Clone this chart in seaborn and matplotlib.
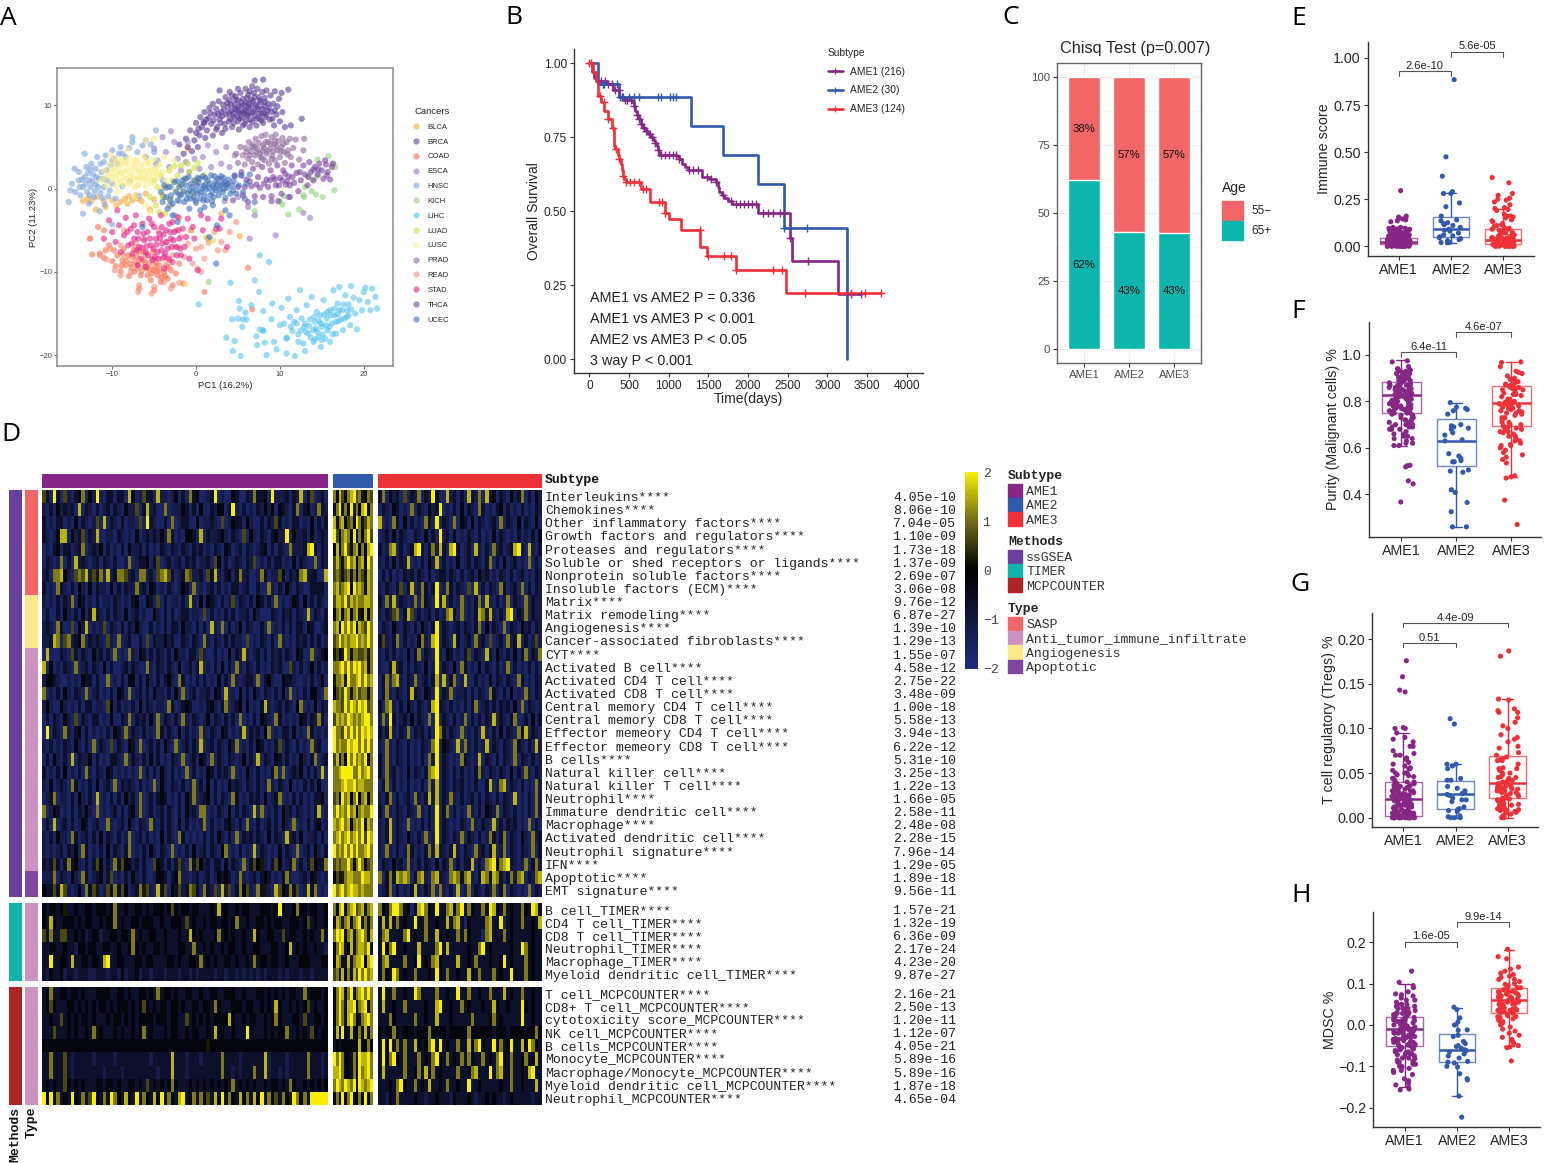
import numpy as np
import pandas as pd
import matplotlib
matplotlib.use("Agg")
import matplotlib.pyplot as plt
import seaborn as sns
from matplotlib.colors import LinearSegmentedColormap, ListedColormap
from matplotlib.lines import Line2D
from matplotlib.patches import Patch

sns.set_style("ticks")
plt.rcParams["font.family"] = ["Liberation Sans", "DejaVu Sans"]
MONO = ["Liberation Mono", "DejaVu Sans Mono"]

W, H = 1544, 1163
fig = plt.figure(figsize=(W / 100, H / 100), dpi=100)


def axpx(l, t, r, b):
    return fig.add_axes([l / W, 1 - b / H, (r - l) / W, (b - t) / H])


SUBTYPES = ["AME1", "AME2", "AME3"]
SUB_COL = {"AME1": "#862786", "AME2": "#3159AC", "AME3": "#EE3138"}

# ---------------- Panel A data ----------------
CANCERS = ["BLCA", "BRCA", "COAD", "ESCA", "HNSC", "KICH", "LIHC", "LUAD", "LUSC", "PRAD", "READ", "STAD", "THCA", "UCEC"]
CANCER_COL = ["#F6A93B", "#5A3A94", "#F9704E", "#9B79C4", "#7FA4DC", "#8FD17F", "#58C3F0", "#CBE23A", "#FBEE8A",
              "#8E6A9B", "#F98F7E", "#E0218A", "#7A3FA0", "#3F6FB9"]
BLCA = [(-13.5,-1.5),(-13,-1.2),(-12.5,-1.5),(-12,-2.5),(-11.8,-1),(-11,-1.5),(-10.8,-2.2),(-10,-1.4),(-9.5,-2),(-9,-1.6),(-8.5,-1.2),(-8.2,-1.8),(-8,-.9),(-7.6,-1.4),(-7.2,-.8),(-7,-1.2),(-6.5,-1.5),(-6,-.6),(-5,-1.3),(-4,-.8),(-3,-2),(-1,4.8),(0,.8),(3,-3),(5.2,-5.7),(1.5,-6.5),(-2,-3.5),(-5.5,-2.5)]
BRCA = [(-2,5.3),(-1.5,4.2),(-1.2,6),(-1,5),(-.7,7),(-.5,4.5),(-.2,5.8),(0,6.7),(0,7.9),(.2,5),(.4,6.4),(.5,8.6),(.7,7.4),(.9,8),(1,9.2),(1.1,6.1),(1.3,7),(1.5,8.5),(1.6,9.7),(1.8,7.8),(2,6.4),(2,10.2),(2.2,8.9),(2.4,9.6),(2.5,7.4),(2.7,10.5),(2.8,8.4),(3,9.2),(3.1,6.7),(3.2,10.1),(3.4,7.8),(3.5,11),(3.6,8.9),(3.8,9.8),(3.9,8.1),(4,10.6),(4,11.6),(4.2,9.3),(4.3,7.4),(4.5,8.6),(4.6,10.1),(4.7,11.1),(4.8,9.5),(5,8.1),(5,10.6),(5.1,7.1),(5.2,9.1),(5.3,11.5),(5.4,9.9),(5.5,8.5),(5.6,10.8),(5.8,7.8),(5.8,9.4),(5.9,12),(6,10.3),(6.1,8.8),(6.2,11.3),(6.3,9.7),(6.4,7.4),(6.5,8.3),(6.6,10.7),(6.7,12.3),(6.8,9.2),(6.9,11.5),(7,8.7),(7.1,10.1),(7.2,7.6),(7.3,12),(7.4,9.6),(7.5,11),(7.6,8.4),(7.7,10.4),(7.8,9),(7.9,11.6),(8,7.9),(8.1,9.9),(8.2,10.9),(8.3,8.6),(8.4,11.8),(8.5,9.4),(8.6,10.2),(8.8,8.3),(8.9,11.2),(9,9.2),(9.2,10.2),(9.3,7.6),(9.4,11.7),(9.6,8.9),(9.7,9.9),(9.9,10.8),(10,8.1),(10.2,11.5),(10.3,9.2),(10.6,7.4),(11,11.9),(11.3,7.6),(12.6,8.4),(8,13.1),(7,13),(2.8,11.8),
        (1.2,8.3),(1.7,9.1),(2.1,8.2),(2.6,9),(2.9,7.9),(3.1,8.7),(3.3,9.5),(3.5,7.2),(3.7,10.3),(3.9,9.1),(4.1,8.4),(4.2,10.1),(4.4,9),(4.5,7.9),(4.6,9.6),(4.7,10.7),(4.9,8.7),(5,9.3),(5.1,9.9),(5.2,8.4),(5.4,10.4),(5.5,9.2),(5.6,7.6),(5.7,9),(5.8,10.1),(6,8.2),(6,9.5),(6.1,10.9),(6.2,8.9),(6.3,10.2),(6.5,9.1),(6.6,9.9),(6.7,8),(6.8,10.5),(7,9.4),(7,11),(7.2,8.4),(7.3,9.9),(7.5,9),(7.6,10.6),(7.8,8.2),(7.9,9.6),(8.1,9.1),(8.2,10.4),(8.4,8.9),(8.7,9.7),(9.1,8.4),(9.4,9.4),(4.3,11.2),(6.4,11.7),(5,12),(2.4,7.1),(1,7.9),(.3,7.2)]
COAD = [(-12.7,-6),(-12.4,-7.9),(-11.7,-4.6),(-11.5,-7.8),(-11,-8.3),(-11,-5),(-10.8,-7.4),(-10.4,-6.8),(-10,-8.7),(-9.8,-7.4),(-9.6,-9.3),(-9.4,-8),(-9,-9.9),(-8.8,-8.6),(-8.6,-7.2),(-8.4,-9.2),(-8.1,-8),(-8,-10.5),(-7.8,-9),(-7.6,-8.2),(-7.4,-10),(-7.2,-8.8),(-7,-9.6),(-6.8,-7.6),(-6.8,-12),(-6.6,-10.4),(-6.4,-8.6),(-6.2,-9.4),(-6,-8),(-5.8,-10.4),(-5.6,-9),(-5.4,-11),(-5.2,-8.4),(-5,-9.8),(-5,-12.2),(-4.8,-8.8),(-4.6,-10.4),(-4.4,-9.2),(-4.2,-11.2),(-4,-8.4),(-3.8,-10),(-3.6,-9.2),(-3.4,-10.8),(-3.2,-8.6),(-3,-9.8),(-2.8,-11.6),(-2.4,-10.2),(-2,-9),(-1.5,-11.4),(1,-12.4),(6.2,-9.5),(6.7,-14.5),
        (-8.9,-9.2),(-8.3,-8.6),(-7.7,-9.5),(-7.1,-8.2),(-6.9,-9.1),(-6.5,-9.9),(-6.1,-8.8),(-5.9,-9.6),(-5.5,-9.7),(-5.3,-10.2),(-4.9,-9.3),(-4.7,-9.9),(-4.3,-9.8),(-4.1,-10.6),(-3.7,-10.5),(-3.3,-9.4),(-7.4,-7.3),(-6.3,-7.6),(-5.1,-7.6),(-8.7,-7.9)]
ESCA = [(-6,3.8),(-5,4.8),(-4.8,3),(-4,6.2),(-3.6,4.4),(-3.2,2.6),(-3,6.9),(-2.6,5.6),(-2.2,3.6),(-1.8,2.2),(-1.2,3.2),(-.8,2),(-.2,3.6),(.4,2.4),(.8,3.8),(1.4,5.2),(1.8,2.6),(2.4,4.4),(3,3),(3.6,5),(4,2.6),(4.6,4),(5.4,1.6),(6.2,-2.2),(7,-3.2),(6.4,-6),(9.5,-5.6),(11,-1),(12.8,-2.9),(13.6,-3.5),(2.8,1.2),(3.4,-1.5),(5,-1),(-1,5.6)]
HNSC = [(-15.2,-1.6),(-15,-.2),(-14.8,.6),(-14.5,2.4),(-14.4,-.4),(-14,1),(-14,2),(-13.8,-.8),(-13.5,.2),(-13.3,1.4),(-13.3,4.2),(-13.1,2.6),(-13,-.4),(-12.8,1),(-12.8,-1.8),(-12.6,.2),(-12.5,3),(-12.3,1.7),(-12.2,-1),(-12,.5),(-12,2.4),(-11.8,3.8),(-11.6,1.2),(-11.4,-.5),(-11.3,2),(-11,.2),(-11,3.2),(-10.8,4),(-10.6,1),(-10.5,-.9),(-10.2,2.8),(-10,4.6),(-10,.6),(-9.8,3.6),(-9.6,-1.2),(-9.2,4.2),(-9,5),(-8.8,.3),(-8.4,3.8),(-8,4.9),(-7.9,.9),(-7.6,5.6),(-7.6,6.2),(-7,4.4),(-6.8,-.9),(-6.4,5.2),(-6,5.8),(-5.4,5.3),(-5,4.4),(-4.6,3.4),(-4,1),(-3.8,-1),(-3.2,-2),(-3,.2),(-2.6,-3.2),(-13.5,-3),(-11.5,-2.7),(-4.8,7),(-2,-1.5),(-10,-4.3),
        (-13.6,1.1),(-13.2,.6),(-12.9,1.9),(-12.7,-.8),(-12.4,.9),(-12.1,-.3),(-11.9,1.4),(-11.7,.2),(-11.2,-1.1),(-11,1.2),(-10.7,2.2),(-10.3,-.2),(-10,3.4),(-9.4,3),(-8.8,4.2),(-13.9,.2),(-12.6,2.3),(-11.4,3),(-10.9,-1.9)]
KICH = [(7,-2.7),(10,-1.5),(10.3,-1.9),(10.5,-.9),(11,-3.1),(12.3,-2.5),(12.8,-.8),(12.9,-1),(13,.2),(13.4,1.5),(13.8,-.3),(14,1.1),(14.3,-.7),(14.5,1.5),(14.5,3.5),(15.1,-1),(15.8,3.9),(16.4,3),(16.5,-.2),(16.6,2.6),(1.5,-11.2)]
LIHC = [(.3,-13.9),(3.6,-17.9),(4.1,-11.3),(4.3,-15.7),(4.4,-19.5),(4.6,-18.3),(5,-15.6),(5.1,-13.5),(5.2,-14.4),(5.3,-20.1),(5.5,-16.6),(5.6,-15.7),(5.9,-14.9),(6,-15.7),(6.6,-14),(7,-11),(7.2,-17.7),(7.3,-18.8),(7.5,-12.4),(7.6,-8),(7.6,-16.9),(8,-17),(8,-14.7),(8.2,-18.5),(8.4,-20),(8.7,-8.8),(9,-15.7),(9.1,-13.8),(9.3,-18.4),(9.6,-19.3),(10,-16.4),(10.2,-14.3),(10.5,-16.2),(10.8,-18),(10.8,-19.8),(11,-13.2),(11.2,-15.4),(11.5,-17.1),(11.7,-16),(11.8,-20.1),(12,-14.6),(12.2,-17.5),(12.4,-12.2),(12.6,-15.6),(12.8,-18.6),(12.9,-16.6),(13,-19.5),(13.2,-14),(13.4,-17.4),(13.6,-15.7),(13.8,-13),(14,-17),(14,-18.4),(14.2,-16),(14.4,-14.8),(14.6,-17.8),(14.8,-15.2),(14.9,-19),(15,-16.6),(15.2,-13.4),(15.4,-18),(15.6,-15.6),(15.7,-17),(16,-14.6),(16,-18.4),(16.2,-16.2),(16.4,-12.2),(16.5,-15.2),(16.7,-17.4),(16.9,-13.8),(17,-15.9),(17.1,-11.8),(17.4,-14.6),(17.5,-17),(17.8,-12.8),(18,-15.4),(18.2,-13.9),(18.4,-16.4),(18.5,-11.7),(18.8,-13.1),(19,-15),(19.2,-16.9),(19.5,-13.4),(19.8,-14.6),(20,-12.4),(20.2,-11.9),(20.5,-13.6),(20.8,-14.6),(21,-12),(21.4,-13),(21.6,-14.4),
        (11.3,-16.6),(12,-16.2),(12.5,-17),(13,-16.2),(13.1,-17.2),(13.5,-16.5),(13.7,-17.9),(14.1,-15.4),(14.3,-16.8),(14.5,-17.2),(14.7,-15.9),(14.9,-16.2),(15.1,-17.5),(15.3,-15.1),(15.5,-16.4),(15.7,-14.8),(15.9,-16.6),(16.1,-15.2),(16.3,-17.5),(16.5,-14.4),(16.7,-16),(16.9,-15.1),(17.1,-14.6),(17.3,-15.7),(17.6,-13.9),(17.7,-15.6),(18,-14.6),(18.2,-15.2),(18.5,-14.5),(14.2,-18.1),(15,-18.2),(12.2,-18.4),(10.8,-17.9),(8,-17.1)]
LUAD = [(-5.5,-1),(-5,1),(-4.8,-2),(-4.6,.2),(-4.4,-2.8),(-4.2,1.6),(-4,-1),(-3.7,-3),(-3.4,.4),(-3.2,2.2),(-3,-1.2),(-2.8,1),(-2.6,2.7),(-2.4,-.2),(-2.2,1.6),(-2,.4),(-1.8,2.8),(-1.5,-.4),(-1.2,1.2),(-1,3),(-.8,2),(-.5,-.6),(-.2,2.5),(0,1),(.2,3.1),(1,1.6),(-.6,-5),(1.2,-5.8),(2,-6.2)]
LUSC = [(-11.3,1),(-11,2.2),(-10.7,.4),(-10.5,1.6),(-10.3,2.9),(-10,1),(-10,2.3),(-9.8,3.5),(-9.6,.3),(-9.4,1.7),(-9.2,2.7),(-9,.8),(-9,3.6),(-8.8,1.9),(-8.6,.4),(-8.4,2.9),(-8.3,1.2),(-8.1,2.2),(-8,3.7),(-7.8,.9),(-7.6,1.7),(-7.5,3),(-7.3,.2),(-7.2,2.4),(-7,1.3),(-7,3.5),(-6.8,.6),(-6.6,2),(-6.5,2.9),(-6.3,1.1),(-6.2,3.9),(-6,.3),(-5.9,2.2),(-5.7,1.4),(-5.6,3.1),(-5.4,.7),(-5.3,2.4),(-5.1,1.7),(-5,3.5),(-4.8,.4),(-4.7,2.6),(-4.5,1.4),(-4.3,3),(-4.2,.1),(-4,2),(-3.8,3.8),(-3.6,1),(-3,2.4),(-2.6,3.4),(-6,5.8),(-5,6),(-7.2,-1),(-6,-2),(-10.2,4),(-8.2,4.6),(-9.4,-.4),(-5.5,-2.8),(-1.2,-11.5),
        (-10.8,1.3),(-10.2,2),(-9.9,1.5),(-9.7,2.4),(-9.3,1),(-9.1,2),(-8.9,2.9),(-8.7,1.3),(-8.5,2.1),(-8.2,3.2),(-7.9,1.6),(-7.7,2.5),(-7.4,1.2),(-7.1,3),(-6.9,2.1),(-6.7,1.4),(-6.4,2.4),(-6.1,1.7),(-5.8,3),(-5.5,2),(-5.2,1),(-4.9,2.2),(-4.6,1.9),(-8,.6),(-7,.4),(-6,1),(-9.5,3.2),(-8.6,3.4),(-7.3,3.4),(-5.9,3.4)]
PRAD = [(4.8,4.2),(5,3.1),(5.3,5),(5.6,4),(5.8,2.9),(5.9,4.9),(6.2,3.6),(6.3,5.6),(6.5,4.5),(6.7,3.2),(6.8,5.3),(7,4),(7.1,6),(7.3,4.8),(7.4,2.9),(7.5,5.5),(7.7,3.8),(7.8,6.3),(7.9,4.5),(8,5.2),(8.2,3.4),(8.3,6.5),(8.4,4.2),(8.6,5.6),(8.7,3),(8.8,4.8),(9,6.2),(9.1,4),(9.3,5.3),(9.4,3.4),(9.5,6.5),(9.7,4.6),(9.8,5.7),(10,3.8),(10.2,5),(10.3,6.1),(10.5,4.4),(10.6,3.1),(10.8,5.6),(11,4.6),(11.2,6),(11.3,3.8),(11.6,4.9),(11.9,5.9),(12.3,3.5),(12.8,4.6),(12.9,6),
        (6,4.4),(6.6,5),(7.2,4.4),(7.6,4.2),(8.1,4.9),(8.5,4.5),(8.9,5.4),(9.2,4.5),(9.6,5.1),(10.1,4.5),(10.4,5.4),(7,5),(7.9,3.6),(9,3.6),(10.9,4.1),(6.4,4),(8.3,5.6),(9.4,5.8)]
READ = [(-12.6,-6),(-11.5,-8),(-10.7,-8.5),(-10.2,-7.2),(-9.7,-9.8),(-9,-6.8),(-9,-10.4),(-8.6,-5),(-7.8,-10),(-7.2,-6.6),(-6.9,-12.4),(-6.8,-11.6),(-6.2,-6),(-5.3,-12.6),(-5,-11.8),(-4.5,-5),(-4.2,-10.8),(-3.8,-11.2),(-3.6,-6.4),(-3,-12),(-2.8,-8),(-2.4,-5),(-2.2,-7),(-2,-11.3),(-1.8,-5.8),(-1.4,-8.2),(-1,-6.6),(-.6,-5),(-.4,-9),(0,-7.2),(.2,-9.6),(.6,-10),(.6,-7),(1,-8.4),(1.4,-6),(2.2,-5.2),(3,-6.4),(3.5,-7.4),(2.6,-7.4),(4,-5.2),(4.8,-4)]
STAD = [(-11,-6),(-10.4,-3.8),(-10,-5.2),(-9.6,-6.4),(-9.2,-4.4),(-9,-7.6),(-8.6,-5.6),(-8.4,-3.5),(-8.1,-6.8),(-7.8,-4.8),(-7.6,-7.8),(-7.4,-6),(-7.2,-3.2),(-7,-5.2),(-6.8,-7),(-6.6,-8.4),(-6.4,-4.2),(-6.2,-6.2),(-6,-7.6),(-5.8,-5.2),(-5.6,-3.6),(-5.4,-6.8),(-5.2,-8.6),(-5,-4.6),(-4.8,-6),(-4.6,-7.6),(-4.4,-5.4),(-4.2,-3.2),(-4,-6.6),(-3.8,-8.2),(-3.6,-5),(-3.4,-7.2),(-3.2,-4.2),(-3,-6),(-2.8,-8.8),(-2.6,-5.2),(-2.4,-7),(-2.2,-3.4),(-2,-6),(-1.8,-8),(-1.6,-4.8),(-1.4,-7),(-1.2,-5.8),(-1,-3.6),(-.8,-8.4),(-.4,-4.6),(-.2,-6),(.2,-9.8),(.6,-3.2),(.8,-5),(1.4,-3.6),(2.4,-4.8),(2.8,-4.8),(3,-3.6),(3.7,-7),(-6,-9.4),(-7,-9.2),(-3.8,-9.6),(-9.4,-2.6),
        (-7.7,-6.6),(-7.1,-7.4),(-6.9,-6),(-6.5,-7.1),(-6.3,-5.4),(-5.9,-6.9),(-5.7,-8),(-5.5,-6),(-5.1,-7.2),(-4.9,-8.2),(-4.7,-6.7),(-4.5,-8.4),(-4.3,-6),(-4.1,-7.4),(-3.9,-5.5),(-3.7,-7.8),(-3.5,-6.4),(-3.3,-8.4),(-3.1,-5.2),(-2.9,-7),(-2.7,-6.2),(-2.3,-8),(-2.1,-5),(-1.9,-7.2),(-8.2,-5.2),(-7.4,-4.4),(-5.3,-4.2),(-4.1,-4.6),(-2.8,-4)]
THCA = [(3.8,.6),(4.4,-1.4),(4.6,1.6),(5,.2),(5.4,2),(5.6,-.8),(6,1.1),(6.2,-1.6),(6.6,.3),(6.8,2.4),(7,-.9),(7.4,1.4),(7.6,.1),(7.9,2.6),(8,-1),(8.4,1.1),(8.6,.2),(8.9,2.2),(9,-.9),(9.2,1.4),(9.5,.4),(9.7,2.8),(10,1.3),(10.2,-.6),(10.4,2.2),(10.7,.5),(11,1.5),(11.2,-1),(11.4,2.8),(11.7,.7),(12,1.9),(12.2,-.3),(12.5,1),(12.8,2.8),(13,1.7),(13.3,.4),(13.5,3.2),(13.7,2),(14,1),(14.2,2.6),(14.5,1.7),(14.7,3),(15,2.2),(15.2,1.2),(15.4,3.4),(15.7,2),(16,1.1),(16.3,3),(16.2,2.6),(15.5,2.9),(14,2.3),(9.8,-1.5),(9,-1.5),
        (8.1,.6),(8.8,1),(9.4,1.1),(9.9,.4),(10.3,1),(10.6,1.8),(10.9,.9),(11.2,.4),(11.5,1.4),(7.2,.5),(6.4,.9),(5.8,.2),(12.4,2),(13.4,1.4),(14.6,2.3),(15.6,1.6)]
UCEC = [(-4.2,-.4),(-4,-1.6),(-3.8,.4),(-3.6,-1),(-3.4,-2.4),(-3.2,.2),(-3,-.8),(-2.8,-1.8),(-2.6,.8),(-2.4,-.4),(-2.2,-1.4),(-2,.2),(-1.8,-.8),(-1.6,1),(-1.4,-1.6),(-1.2,.4),(-1,-.6),(-.9,1.4),(-.7,-1.2),(-.5,.2),(-.4,-.4),(-.2,1),(-.1,-1.4),(.1,.4),(.2,-.6),(.4,1.2),(.5,-1.2),(.7,0),(.8,1.5),(1,-.8),(1.1,.5),(1.3,-1.4),(1.4,1),(1.5,.1),(1.7,-.8),(1.8,1.6),(2,.3),(2.1,-1),(2.3,.8),(2.4,-.2),(2.6,1.2),(2.7,-.8),(2.9,.4),(3,1.5),(3.2,-.4),(3.4,.8),(3.5,-1.1),(3.7,.1),(3.9,1.1),(4.1,-.6),(4.3,.4),(4.6,1.5),(4.8,-.6),(5.1,.4),(5.4,1.6),(5.6,-.4),(6,.6),(6.4,1.7),(1,-2.2),(.5,-2.6),(-.8,-2.4),(-2.8,-3.2),(2,-2),(3.5,-2.6),(5.8,-1.2),(2.5,-4.4),(1.6,-5.8),(2.4,-9),(-2.2,-4),(-6.4,-4.6),(7,-1.6),(4,-3.2),
        (-1.5,-.3),(-1.1,-1.2),(-.6,.6),(-.3,-1),(0,-.2),(.3,.7),(.6,-.4),(.9,.3),(1.2,-.1),(1.6,.6),(1.9,-.4),(2.2,.1),(2.5,.5),(2.8,-.1),(3.1,.6),(3.3,0),(3.6,.5),(0,-1.7),(.9,-1.4),(1.9,-1.5),(-2.3,.9),(-1.3,1.2),(-3.1,-1.4),(-2,-.7),(-3.6,.1),(.2,1.3),(1.1,1.3),(2.2,1.5),(3.3,1.3),(4.5,.9),(4.4,-.2),(-.8,-.2),(-1.7,.5)]
PCA_POINTS = [BLCA, BRCA, COAD, ESCA, HNSC, KICH, LIHC, LUAD, LUSC, PRAD, READ, STAD, THCA, UCEC]

# ---------------- Panel B data ----------------
KM_T = {"AME1": [0,30,60,90,150,220,300,380,440,540,560,580,600,620,650,680,710,740,770,800,830,850,870,880,1100,1130,1170,1210,1240,1420,1520,1600,1620,1640,1670,1700,1750,1800,2130,2530,2550,3139,3430],
        "AME2": [0,105,378,1285,1690,2125,2460,3245],
        "AME3": [0,50,90,110,150,190,240,290,310,330,360,380,400,410,420,440,460,650,770,950,1000,1150,1400,1480,1850,2480,3680]}
KM_S = {"AME1": [1,.97,.95,.94,.94,.93,.91,.885,.875,.87,.855,.84,.825,.81,.795,.78,.77,.76,.75,.74,.73,.72,.705,.69,.685,.675,.66,.65,.64,.615,.61,.6,.58,.565,.555,.545,.535,.525,.495,.41,.33,.22,.22],
        "AME2": [1,.93,.887,.789,.69,.593,.444,0],
        "AME3": [1,.97,.94,.89,.87,.84,.81,.78,.72,.71,.69,.675,.66,.64,.62,.61,.6,.575,.53,.495,.475,.435,.38,.35,.3,.225,.225]}
KM_CENS = {"AME1": [150,200,240,290,330,370,410,450,480,520,560,600,620,650,690,720,760,790,830,870,900,960,1010,1060,1090,1130,1260,1310,1370,1480,1530,1600,1690,1790,1850,1900,1950,2000,2050,2100,2190,2250,2320,2400,2450,2530,2760,3300,3430],
           "AME2": [170,190,350,390,420,500,560,630,860,900,1020,1060,1090,2460,2530,2750],
           "AME3": [0,20,130,180,240,300,340,380,420,460,510,560,620,680,720,880,920,960,1390,1490,1700,1780,1850,2320,2430,2720,3300,3470,3680]}
KM_LABELS = ["AME1 (216)", "AME2 (30)", "AME3 (124)"]
KM_TEXT = ["AME1 vs AME2 P = 0.336", "AME1 vs AME3 P < 0.001", "AME2 vs AME3 P < 0.05", "3 way P < 0.001"]

# ---------------- Panel C data ----------------
AGE_65 = [62, 42.9, 42.8]
AGE_55 = [38, 57.1, 57.2]
AGE_TXT_65 = ["62%", "43%", "43%"]
AGE_TXT_55 = ["38%", "57%", "57%"]

# ---------------- Panel D data ----------------
ROWS_1 = ["Interleukins****","Chemokines****","Other inflammatory factors****","Growth factors and regulators****","Proteases and regulators****","Soluble or shed receptors or ligands****","Nonprotein soluble factors****","Insoluble factors (ECM)****","Matrix****","Matrix remodeling****","Angiogenesis****","Cancer-associated fibroblasts****","CYT****","Activated B cell****","Activated CD4 T cell****","Activated CD8 T cell****","Central memory CD4 T cell****","Central memory CD8 T cell****","Effector memeory CD4 T cell****","Effector memeory CD8 T cell****","B cells****","Natural killer cell****","Natural killer T cell****","Neutrophil****","Immature dendritic cell****","Macrophage****","Activated dendritic cell****","Neutrophil signature****","IFN****","Apoptotic****","EMT signature****"]
ROWS_2 = ["B cell_TIMER****","CD4 T cell_TIMER****","CD8 T cell_TIMER****","Neutrophil_TIMER****","Macrophage_TIMER****","Myeloid dendritic cell_TIMER****"]
ROWS_3 = ["T cell_MCPCOUNTER****","CD8+ T cell_MCPCOUNTER****","cytotoxicity score_MCPCOUNTER****","NK cell_MCPCOUNTER****","B cells_MCPCOUNTER****","Monocyte_MCPCOUNTER****","Macrophage/Monocyte_MCPCOUNTER****","Myeloid dendritic cell_MCPCOUNTER****","Neutrophil_MCPCOUNTER****"]
PVAL_1 = ["4.05e-10","8.06e-10","7.04e-05","1.10e-09","1.73e-18","1.37e-09","2.69e-07","3.06e-08","9.76e-12","6.87e-27","1.39e-10","1.29e-13","1.55e-07","4.58e-12","2.75e-22","3.48e-09","1.00e-18","5.58e-13","3.94e-13","6.22e-12","5.31e-10","3.25e-13","1.22e-13","1.66e-05","2.58e-11","2.48e-08","2.28e-15","7.96e-14","1.29e-05","1.89e-18","9.56e-11"]
PVAL_2 = ["1.57e-21","1.32e-19","6.36e-09","2.17e-24","4.23e-20","9.87e-27"]
PVAL_3 = ["2.16e-21","2.50e-13","1.20e-11","1.12e-07","4.05e-21","5.89e-16","5.89e-16","1.87e-18","4.65e-04"]
TYPE_1 = [0]*8 + [2]*4 + [1]*17 + [3]*2

HM_AME1 = [
"63193162134714292133133184126331822124131734112391211431132733419222313281361231",
"21314232318132131231321422613823117122243131411324413921312132424143213713412732",
"31213312141321261813213122161932113171233114122321612433142113132631213312141313",
"32124881423613281122132121412323242731214431813223421321614213213422914223141232",
"12134133123712324131213142231312132132132132312132143123132123413132172223893132",
"13212713182321231321311271233413612312313231223164131232132612131331214132117132",
"23177842167682657182377623177231678631237622316382134137231127312264132378233118",
"31217321314214132214131322723143121321243171212313121331231131172131421321133331",
"21213132714312131221321213411431613122131821414321312613213143131712124314131321",
"13113142131413832131321412312114213131233122161312131312231421113213231321813213",
"23217311614281212613213132421131213133142213131821713124132113171213131331431123",
"22387167234713232162171231131613224231132132172132131322161213213172121323131312",
"18111321631321423131712172143131321314221331621131214132821231313231321431171234",
"81412132171231321413112313211721321321412313812131413172132131213231162131241312",
"24432112121433131171213144131421313421731213131214131721233171342114332112131241",
"71213142132171231213143171231314221314171231223143181214131421321314171213144217",
"24211421213133122164131213141321221731234311213421371234141213821231321471214132",
"13132142161321331214113271323141713213172132124132131317121314321731212143132731",
"19132172134131212131431713213121731321413121721321431212813231471213314121731212",
"21312132142131713216132143171231314217123131812313214271213143121361321312172311",
"13142131813224131213321713213141312132171231431713213212413181321431312142137123",
"31213141213172132143121212171313142131217131214313231712142131213717123241313181",
"21412321731213141231713232131217142132131271314131214232132131272132141213131411",
"12371221314213181213131423171231343121314271234131321731213231412371213131213341",
"71243121313242171212313134171231231321314231771213214131321817121314231321213812",
"13181231312431231172123142132172131321413121271312134213172131231314217121313412",
"21314221731231314132131271231312141321731212131314213171323132141321823141223131",
"21212313241731213141321371213142132171213141231321471213121813212141321712314213",
"32363137342131364131736442313116431313621736423133141321713645213641237131364337",
"22271321421731234136121314213112443134722123123124343127212313431213721123143212",
"43363862124173651263736412375621836143623763173261826137462173521864373612837121",
"43443453343344344434733433443434443464344344333438443343443334443494334744344334",
"43843344434344334344734334434443343344436343343443443473343344343443344434634334",
"63733663343423442334434437343344334333433843433347343433433843344336344334343373",
"33443343324434433443343347434334434333443373343433434433433443334433483434334332",
"33933443833443443893344333443443333443433443734343344343343734434433433344433344",
"32433423323332233323324233423323332333233232333323323323232323233323233323323333",
"34733443443433344443344343344343734434334433433443344433433344343434344337344434",
"34643334434343434434344434346434344344343344344374333444344334343843343434634334",
"33433634343443433343443434344443444344336343434344448433434433434743334436334434",
"33363334343343734333434334347343334344334344334384433433394333434344733434364344",
"44444444444444444444444444444444444444444444445444444444444444444444444444444444",
"33733363233333233333233333333323333383332333233333733332333333823333233333733323",
"33733363233333333233332333333333233383332333333333733232333733823323233333733323",
"34343364343433344344343344343634343474333434343434343734343433434434374334343434",
"94947343943736943739743845937438493743893473746384937438473849374637459747399999",
]
HM_AME2 = [
"74864789675476","37937495748947","83784674973687","96478749374796","48479637847489",
"68637978478497","67636737476387","78678949787387","68879687877887","47847847854847",
"78497979487697","67978788978797","56459737766757","77897979897837","57785977897978",
"46769757867737","87769798798967","68787987878997","97769797979898","97877989979797",
"68374979787947","77899997797897","77789889788777","67497847947847","79787978478779",
"87897847879387","78978978979698","97879797977897","67677974797467","46557887779887",
"97897898878777",
"74893789678378","38727837893737","79893783789738","47983483788793","48733837889489","67384738697978",
"47983793789797","47973889478937","47973897437897","38494384474847","34344444484474",
"97974437398897","88974437397897","79879879498789","47494794474947",
]
HM_AME3 = [
"3714231613271329411823131832718341321423713142","1321431217132142391213141321731213413121312132","8121731413121731913217143141321231713214132141",
"1231413211321413192314121321312141321213121314","3127813123893137283189312318213172312389318213","2131413281213142813121412313213713141231217131",
"1313121323132131233132131231423121321312312132","2132136138127313912731321618131321731231713132","3172813212717321928131271213718213127132171322",
"2132671386131231312783171213872821318913271322","1321421321314213913212313213714132171321423132","3621371312147218913218312317231612317238131262",
"2131312141371321921431213613218314213141371327","2113823131321412913214173121413213127131213131","1371782132712313818137128113121413213217312132",
"1372132138321431913271223131321732131412172132","3178213142132138932131213137123131323141713212","2719312314132171913213127131313281321371131413",
"3138213271323131973132171213182131413217381321","2172132131213217914321817213128132132173213182","3172132131213172913212173212813213132171321312",
"3172312141321378913213131213721321321413172132","1371312131213172813213231213113812781321312172","2137131231721382813272131231313213132181213172",
"3172132132172131913713121721314327132131213172","2138132171213131913212132172132181313231217131","2138132142131712913213271321312731371321421723",
"2172131273121372832138213217231381271321321713","1321423172131321413271313381317893789321271372","7137387871378217832178737821387387313727813278",
"1237131213821327172131812713213271371321217132",
"7437997341389743933784793743373984373433743983","3838373433933733433837831433337833913433733438","3783333793433733843433737433317833373433333433",
"3947933433383333793833333433793433333433973433","3783333733493437843333833437333433493433373433","3743973433733343943733433843733373433943373433",
"3933733433973333733433933733433733383433733433","3833433733333433893343373433343384334333943433","3337433333733433833343333373333473433333933433",
"4344743444344474444344444744444434443444444474","3949373733843479393433733847943393734933849743","3947943733373437943734373743373437943733473483",
"3833333733473837343333733478333937833733438933","3334379433734383343733433933433333433733433383",
"3324373333433233433324333432334343323433333233",
]
HM_ALL = HM_AME1, HM_AME2, HM_AME3

# ---------------- Panels E-H data ----------------
E_PTS = {"AME1": [.295,.16,.155,.15,.15,.145,.14,.135,.13,.1,.1,.095,.095,.09,.09,.085,.085,.08,.08,.075,.075,.07,.07,.065,.065,.06,.06,.06,.055,.055,.05,.05,.05,.045,.045,.045,.04,.04,.04,.04,.035,.035,.035,.03,.03,.03,.03,.025,.025,.025,.025,.02,.02,.02,.02,.02,.015,.015,.015,.015,.015,.01,.01,.01,.01,.01,.01,.005,.005,.005,.005,.005,.005,.002,.002,.002,.002,.002,0,0,0,0,0,0,
                  .09,.08,.07,.06,.055,.05,.045,.04,.038,.036,.034,.032,.03,.028,.026,.024,.022,.02,.018,.016,.014,.012,.01,.008,.006,.004,.003,.001,0,0,0,.09,.075,.06,.05,.04,.03,.02,.01,0,.065,.055,.045,.035,.025,.015,.005,0],
         "AME2": [.885,.475,.372,.29,.28,.28,.23,.21,.16,.14,.135,.125,.12,.115,.11,.1,.09,.085,.08,.07,.06,.055,.05,.045,.04,.035,.03,.02,.02,.018],
         "AME3": [.365,.337,.28,.27,.255,.25,.245,.235,.22,.205,.2,.195,.19,.17,.16,.16,.155,.15,.14,.135,.13,.12,.115,.11,.105,.1,.095,.09,.085,.08,.075,.07,.065,.06,.055,.055,.05,.045,.045,.04,.04,.035,.035,.03,.03,.025,.025,.025,.02,.02,.02,.015,.015,.015,.01,.01,.01,.01,.005,.005,.005,.005,0,0,0,0,0,0,0,0,
                  .09,.07,.06,.05,.04,.035,.03,.025,.02,.015,.01,.005,0,.045,.03,.02,.01,0,.06,.04]}
F_PTS = {"AME1": [.975,.97,.95,.94,.94,.935,.93,.925,.92,.92,.91,.91,.905,.9,.9,.895,.89,.89,.88,.88,.875,.87,.87,.865,.86,.86,.855,.85,.85,.845,.84,.84,.835,.83,.83,.825,.82,.82,.815,.81,.81,.805,.8,.8,.795,.79,.79,.785,.78,.78,.775,.77,.765,.76,.76,.755,.75,.745,.74,.73,.73,.72,.72,.71,.7,.7,.69,.69,.68,.68,.67,.66,.65,.65,.64,.63,.62,.62,.61,.61,.525,.523,.518,.458,.445,.367,
                  .93,.92,.91,.9,.89,.885,.88,.87,.865,.86,.855,.85,.845,.84,.835,.83,.825,.82,.815,.81,.805,.8,.795,.79,.785,.78,.775,.77,.765,.76,.75,.74,.73,.72,.7,.68,.66,.64,.9,.87,.85,.83,.81,.79,.77,.75,.71,.69],
         "AME2": [.795,.775,.77,.765,.76,.745,.7,.695,.69,.685,.68,.665,.655,.635,.63,.575,.565,.555,.545,.54,.54,.505,.5,.495,.42,.408,.365,.325,.26,.26],
         "AME3": [.97,.968,.95,.93,.925,.92,.91,.9,.895,.89,.885,.88,.875,.87,.865,.86,.86,.855,.85,.85,.84,.835,.83,.825,.82,.81,.8,.8,.795,.79,.785,.78,.775,.77,.765,.76,.755,.75,.745,.74,.73,.72,.71,.7,.7,.695,.69,.685,.68,.67,.665,.66,.65,.64,.63,.62,.615,.61,.6,.59,.58,.57,.56,.55,.535,.48,.475,.47,.375,.27,
                  .87,.85,.83,.81,.79,.78,.77,.76,.75,.73,.71,.69,.67,.65,.63,.61,.86,.8,.77,.68]}
G_PTS = {"AME1": [.176,.158,.143,.141,.101,.1,.1,.095,.09,.088,.085,.08,.08,.075,.072,.07,.07,.067,.065,.062,.06,.058,.056,.055,.053,.05,.05,.048,.046,.044,.042,.04,.04,.038,.036,.035,.034,.032,.032,.03,.03,.028,.028,.026,.026,.025,.024,.023,.022,.021,.02,.02,.019,.018,.017,.016,.015,.014,.014,.013,.012,.011,.01,.01,.009,.008,.007,.006,.005,.005,.004,.003,.003,.002,.002,.001,.001,0,0,0,0,0,0,0,0,0,0,0,0,0,
                  .055,.05,.047,.044,.04,.038,.036,.034,.032,.03,.028,.026,.024,.022,.02,.018,.016,.014,.012,.01,.008,.007,.006,.005,.004,.003,.002,.001,0,0,0,0,.038,.03,.025,.02,.015,.01,.005,0,.035,.027,.023,.017,.012,.006,.002,0],
         "AME2": [.111,.105,.06,.06,.058,.055,.044,.042,.042,.035,.033,.03,.028,.027,.026,.025,.022,.02,.02,.018,.012,.01,.009,.008,.007,.002,.001,0,0,0],
         "AME3": [.187,.181,.133,.132,.122,.12,.118,.118,.112,.107,.103,.1,.093,.09,.088,.085,.08,.078,.073,.07,.068,.066,.064,.064,.06,.056,.055,.053,.05,.048,.046,.044,.042,.04,.04,.038,.037,.036,.035,.034,.033,.032,.03,.03,.028,.027,.025,.024,.022,.021,.02,.019,.018,.016,.015,.014,.012,.012,.01,.01,.009,.008,.008,.006,.005,.004,.002,.001,0,0,
                  .065,.055,.05,.045,.042,.038,.035,.032,.03,.028,.026,.022,.02,.017,.014,.011,.009,.007,.045,.033]}
H_PTS = {"AME1": [.13,.103,.095,.09,.08,.075,.073,.07,.065,.06,.055,.05,.05,.045,.04,.04,.035,.03,.03,.028,.025,.02,.02,.018,.015,.012,.01,.01,.008,.005,.002,0,0,-.002,-.005,-.008,-.01,-.01,-.012,-.015,-.018,-.02,-.02,-.022,-.025,-.028,-.03,-.03,-.032,-.035,-.038,-.04,-.04,-.042,-.045,-.048,-.05,-.05,-.055,-.058,-.06,-.062,-.065,-.068,-.07,-.072,-.075,-.08,-.082,-.085,-.088,-.09,-.095,-.1,-.102,-.105,-.11,-.115,-.12,-.13,-.135,-.14,-.145,-.15,-.155,-.157,
                  .06,.05,.04,.035,.03,.025,.02,.015,.01,.005,0,-.005,-.01,-.015,-.02,-.025,-.03,-.035,-.04,-.045,-.05,-.055,-.06,-.07,-.08,-.09,-.1,-.11,.045,.028,.012,-.003,-.018,-.033,-.047,-.065,.02,.005,-.012,-.028,-.042,-.058,-.075,-.095],
         "AME2": [.043,.037,.017,.007,0,-.012,-.013,-.025,-.028,-.04,-.045,-.05,-.052,-.056,-.06,-.062,-.065,-.07,-.075,-.08,-.088,-.09,-.092,-.1,-.102,-.118,-.13,-.133,-.172,-.223],
         "AME3": [.183,.165,.16,.14,.135,.13,.125,.122,.118,.115,.11,.11,.105,.1,.098,.095,.09,.088,.085,.082,.08,.078,.076,.074,.072,.07,.068,.066,.065,.062,.06,.058,.056,.055,.052,.05,.048,.046,.045,.042,.04,.038,.036,.035,.032,.03,.028,.025,.022,.02,.018,.015,.012,.01,.008,.005,0,-.005,-.01,-.015,-.02,-.025,-.03,-.035,-.04,-.045,-.05,-.053,-.055,-.087,
                  .09,.08,.075,.07,.065,.06,.055,.05,.045,.04,.035,.03,.09,.07,.05,.06,.07,.08,.04,.02]}

E_BOX = {"AME1": [0,.01,.02,.042,.1], "AME2": [.015,.05,.09,.154,.285], "AME3": [0,.01,.035,.09,.2]}
F_BOX = {"AME1": [.608,.752,.826,.882,.978], "AME2": [.26,.524,.631,.725,.795], "AME3": [.474,.693,.792,.868,.97]}
G_BOX = {"AME1": [0,.002,.021,.04,.0945], "AME2": [0,.0093,.027,.0415,.0605], "AME3": [0,.022,.039,.069,.133]}
H_BOX = {"AME1": [-.15,-.05,-.01,.02,.1], "AME2": [-.171,-.09,-.06,-.023,.04], "AME3": [-.05,.03,.06,.09,.18]}

E_BR = [(0,1,.929,.903,"2.6e-10",.957),(1,2,1.034,1.007,"5.6e-05",1.062)]
F_BR = [(0,1,1.014,.993,"6.4e-11",1.036),(1,2,1.10,1.076,"4.6e-07",1.122)]
G_BR = [(0,1,.196,.191,"0.51",.2015),(0,2,.2186,.2134,"4.4e-09",.224)]
H_BR = [(0,1,.2016,.189,"1.6e-05",.2145),(1,2,.25,.237,"9.9e-14",.262)]

# ================ Panel A ================
ax = axpx(57, 68, 393, 366)
dfA = pd.DataFrame([(c, x, y) for c, pts in zip(CANCERS, PCA_POINTS) for x, y in pts], columns=["Cancers", "x", "y"])
sns.scatterplot(data=dfA, x="x", y="y", hue="Cancers", hue_order=CANCERS, palette=dict(zip(CANCERS, CANCER_COL)),
                s=20, alpha=.6, linewidth=0, ax=ax, legend="full", zorder=2)
ax.set_xlim(-16.6, 23.5)
ax.set_ylim(-21.3, 14.5)
ax.set_xticks([-10, 0, 10, 20])
ax.set_yticks([-20, -10, 0, 10])
ax.tick_params(labelsize=5.5, labelcolor="#444444", color="#555555", length=2, width=.6, pad=1.5)
ax.set_xlabel("PC1 (16.2%)", fontsize=6.8, labelpad=2)
ax.set_ylabel("PC2 (11.23%)", fontsize=6.8)
ax.yaxis.set_label_coords((37.7 - 57) / 336, .5)
for s in ax.spines.values():
    s.set_color("#8a8a8a")
    s.set_linewidth(1.1)
sns.move_legend(ax, "upper left", bbox_to_anchor=((414.5 - 57) / 336, 1 - (107 - 68) / 298), frameon=False, title="Cancers",
                fontsize=5.5, title_fontsize=6.8, labelspacing=.98, handlelength=.3, handletextpad=1.45, borderpad=0, borderaxespad=0)
ax.get_legend().set_alignment("left")

# ================ Panel B ================
ax = axpx(574, 49.3, 922.7, 373.3)
for sub in SUBTYPES:
    t = np.array(KM_T[sub])
    s = np.array(KM_S[sub])
    sns.lineplot(x=t, y=s, drawstyle="steps-post", estimator=None, sort=False, color=SUB_COL[sub], lw=1.9, ax=ax, zorder=3)
    c = np.array(KM_CENS[sub])
    cy = s[np.clip(np.searchsorted(t, c, side="right") - 1, 0, len(s) - 1)]
    sns.scatterplot(x=c, y=cy, marker="+", s=38, linewidth=1, color=SUB_COL[sub], ax=ax, zorder=4, legend=False)
ax.set_xlim(-193, 4202)
ax.set_ylim(-.048, 1.047)
ax.set_xticks(range(0, 4001, 500))
ax.set_yticks([0, .25, .5, .75, 1])
ax.set_yticklabels(["0.00", "0.25", "0.50", "0.75", "1.00"])
ax.tick_params(labelsize=8.6, length=3, width=.8, pad=2, color="#333333")
ax.set_xlabel("Time(days)", fontsize=10, labelpad=0)
ax.set_ylabel("Overall Survival", fontsize=10)
ax.yaxis.set_label_coords((541 - 574) / 348.7, .5)
for spn in ["top", "right"]:
    ax.spines[spn].set_visible(False)
for spn in ["left", "bottom"]:
    ax.spines[spn].set_color("#333333")
    ax.spines[spn].set_linewidth(1)
for yy, txt in zip([298, 319, 340, 361], KM_TEXT):
    ax.text((590.5 - 574) / 348.7, 1 - (yy - 49.3) / 324, txt, transform=ax.transAxes, fontsize=10.4, va="center", ha="left", color="#222222")
ax.legend([Line2D([], [], color=SUB_COL[k], lw=1.9, marker="+", ms=5, mew=.9) for k in SUBTYPES], KM_LABELS, title="Subtype",
          loc="upper left", bbox_to_anchor=(828 / W, 1 - 48 / H), bbox_transform=fig.transFigure, frameon=False, fontsize=7.4,
          title_fontsize=7.4, labelspacing=.85, handlelength=1.45, handletextpad=.7, borderpad=0, borderaxespad=0, alignment="left")

# ================ Panel C ================
ax = axpx(1057.3, 63.3, 1201, 362.7)
ax.set_axisbelow(True)
sns.barplot(x=SUBTYPES, y=[a + b for a, b in zip(AGE_55, AGE_65)], color="#F16767", width=.7, saturation=1, ax=ax, zorder=2)
sns.barplot(x=SUBTYPES, y=AGE_65, color="#0DB5AC", width=.7, saturation=1, ax=ax, zorder=3)
for i in range(3):
    ax.text(i, AGE_65[i] + AGE_55[i] / 2, AGE_TXT_55[i], ha="center", va="center", fontsize=8.2, color="#111111", zorder=5)
    ax.text(i, AGE_65[i] / 2, AGE_TXT_65[i], ha="center", va="center", fontsize=8.2, color="#111111", zorder=5)
ax.set_xlim(-.593, 2.6)
ax.set_ylim(-5, 105)
ax.set_yticks([0, 25, 50, 75, 100])
ax.set_yticks([12.5, 37.5, 62.5, 87.5], minor=True)
ax.grid(True, which="major", color="#ececec", lw=.8)
ax.grid(True, which="minor", axis="y", color="#f3f3f3", lw=.5)
ax.tick_params(axis="both", which="major", labelsize=8.2, labelcolor="#4d4d4d", length=3, width=.8, color="#333333", pad=2)
ax.tick_params(axis="y", which="minor", length=0)
ax.set_title("Chisq Test (p=0.007)", fontsize=11.7, pad=7.5, x=.54)
for s in ax.spines.values():
    s.set_color("#666666")
    s.set_linewidth(1)
legC = ax.legend([Patch(color="#F16767"), Patch(color="#0DB5AC")], ["55\u2212", "65+"], title="Age", loc="upper left",
                 bbox_to_anchor=(1222 / W, 1 - 181 / H), bbox_transform=fig.transFigure, frameon=False, fontsize=8.5, title_fontsize=10,
                 handlelength=1.76, handleheight=2.05, labelspacing=.12, handletextpad=.7, borderpad=0, borderaxespad=0, alignment="left")
legC._legend_box.sep = 4.5

# ================ Panel D ================
CMAP = LinearSegmentedColormap.from_list("hm", ["#1E2C80", "#14183F", "#000000", "#6E6A18", "#F8F000"])
BLOCK_X = [(42, 328), (333, 372.5), (378, 542)]
BLOCK_Y = [(490, 897), (902.7, 981), (986.7, 1105)]
ROW_GROUPS = [ROWS_1, ROWS_2, ROWS_3]
PVAL_GROUPS = [PVAL_1, PVAL_2, PVAL_3]
METHOD_COL = ["#68409B", "#0DB5AC", "#AE2325"]
TYPE_COL = ["#F16767", "#CB92C2", "#FBE98B", "#7F479E"]
TYPE_ROWS = [TYPE_1, [1] * 6, [1] * 9]

cax = axpx(964.7, 472, 978, 668.7)
first = True
start = 0
for g, (rows, pv, (yt, yb)) in enumerate(zip(ROW_GROUPS, PVAL_GROUPS, BLOCK_Y)):
    n = len(rows)
    for b, (xl, xr) in enumerate(BLOCK_X):
        strs = HM_ALL[b][start:start + n]
        m = max(len(q) for q in HM_ALL[b])
        mat = np.array([[-2 + int(ch) * 4 / 9 for ch in q.ljust(m, "4")[:m]] for q in strs])
        ax = axpx(xl, yt, xr, yb)
        sns.heatmap(mat, cmap=CMAP, vmin=-2, vmax=2, ax=ax, xticklabels=False, yticklabels=rows if b == 2 else False,
                    cbar=first, cbar_ax=cax if first else None, linewidths=0)
        first = False
        if b == 2:
            ax.yaxis.tick_right()
            ax.tick_params(axis="y", length=0, pad=2.2, labelrotation=0)
            for tl in ax.get_yticklabels():
                tl.set_fontfamily(MONO)
                tl.set_fontsize(9.45)
                tl.set_color("#222222")
                tl.set_ha("left")
                tl.set_va("center_baseline")
            for i, p in enumerate(pv):
                ax.annotate(p, xy=(1, i + .5), xycoords=("axes fraction", "data"), xytext=(252.8, 0), textcoords="offset points",
                            va="center_baseline", ha="left", family=MONO, fontsize=9.45, color="#222222")
    axm = axpx(9, yt, 22, yb)
    sns.heatmap(np.full((n, 1), g), cmap=ListedColormap(METHOD_COL), vmin=0, vmax=2, cbar=False, xticklabels=False, yticklabels=False, ax=axm)
    axt = axpx(25, yt, 38, yb)
    sns.heatmap(np.array(TYPE_ROWS[g]).reshape(-1, 1), cmap=ListedColormap(TYPE_COL), vmin=0, vmax=3, cbar=False, xticklabels=False, yticklabels=False, ax=axt)
    start += n

for b, (xl, xr) in enumerate(BLOCK_X):
    axs = axpx(xl, 473.5, xr, 488)
    sns.heatmap(np.array([[b]]), cmap=ListedColormap([SUB_COL[k] for k in SUBTYPES]), vmin=0, vmax=2, cbar=False, xticklabels=False, yticklabels=False, ax=axs)

fig.text(545 / W, 1 - 480 / H, "Subtype", family=MONO, fontsize=9.45, fontweight="bold", va="center", color="#111111")
fig.text(15.5 / W, 1 - 1107 / H, "Methods", family=MONO, fontsize=9.45, fontweight="bold", rotation=90, va="top", ha="center", color="#111111")
fig.text(31.5 / W, 1 - 1107 / H, "Type", family=MONO, fontsize=9.45, fontweight="bold", rotation=90, va="top", ha="center", color="#111111")

cax.set_yticks([-2, -1, 0, 1, 2])
cax.set_yticklabels(["\u22122", "\u22121", "0", "1", "2"])
cax.tick_params(axis="y", length=0, pad=3.5)
for tl in cax.get_yticklabels():
    tl.set_fontfamily(MONO)
    tl.set_fontsize(9.45)
    tl.set_color("#444444")
for s in cax.spines.values():
    s.set_visible(False)


def mono_legend(title, names, cols, ytop):
    leg = fig.legend([Patch(color=c) for c in cols], names, title=title, loc="upper left",
                     bbox_to_anchor=(1008 / W, 1 - ytop / H), frameon=False,
                     prop={"family": MONO, "size": 9.45}, title_fontproperties={"family": MONO, "size": 9.45, "weight": "bold"},
                     handlelength=1.1, handleheight=1.2, labelspacing=0, handletextpad=.3, borderpad=0, borderaxespad=0, alignment="left")
    leg._legend_box.sep = 1.5
    for t in leg.get_texts():
        t.set_color("#333333")
    return leg


mono_legend("Subtype", SUBTYPES, [SUB_COL[k] for k in SUBTYPES], 470)
mono_legend("Methods", ["ssGSEA", "TIMER", "MCPCOUNTER"], METHOD_COL, 536)
mono_legend("Type", ["SASP", "Anti_tumor_immune_infiltrate", "Angiogenesis", "Apoptotic"], ["#F16767", "#CB92C2", "#FBE98B", "#7F479E"], 603)


# ================ Panels E-H ================
def box_panel(pos, pts, box, brackets, ylim, xlim, yticks, yfmt, ylabel, ylab_x):
    l, t, r, b = pos
    ax = axpx(l, t, r, b)
    dfp = pd.DataFrame([(k, v) for k in SUBTYPES for v in pts[k]], columns=["Subtype", "v"])
    dfb = pd.DataFrame([(k, v) for k in SUBTYPES for v in box[k]], columns=["Subtype", "v"])
    sns.stripplot(data=dfp, x="Subtype", y="v", hue="Subtype", order=SUBTYPES, palette=SUB_COL, size=3.7, jitter=.22,
                  linewidth=0, legend=False, ax=ax, zorder=2)
    sns.boxplot(data=dfb, x="Subtype", y="v", hue="Subtype", order=SUBTYPES, palette=SUB_COL, fill=False, width=.7, whis=(0, 100),
                showfliers=False, linewidth=1, legend=False, ax=ax, capwidths=.2, medianprops={"linewidth": 1.8},
                boxprops={"alpha": .7}, zorder=3)
    for x0, x1, top, tip, label, ty in brackets:
        ax.plot([x0, x0, x1, x1], [tip, top, top, tip], color="#555555", lw=.8, clip_on=False)
        ax.text((x0 + x1) / 2, ty, label, fontsize=8, ha="center", va="center", color="#222222")
    ax.set_xlim(*xlim)
    ax.set_ylim(*ylim)
    ax.set_yticks(yticks)
    ax.set_yticklabels([yfmt.format(v).replace("-", "\u2212") for v in yticks])
    ax.tick_params(labelsize=10.3, length=3, width=.8, pad=2, color="#333333")
    ax.set_xlabel("")
    ax.set_ylabel(ylabel, fontsize=10.3)
    ax.yaxis.set_label_coords((ylab_x + 7.5 - l) / (r - l), .5)
    for spn in ["top", "right"]:
        ax.spines[spn].set_visible(False)
    for spn in ["left", "bottom"]:
        ax.spines[spn].set_color("#333333")
        ax.spines[spn].set_linewidth(1)


box_panel((1367.7, 42, 1534, 256), E_PTS, E_BOX, E_BR, (-.052, 1.085), (-.59, 2.59), [0, .25, .5, .75, 1], "{:.2f}", "Immune score", 1324)
box_panel((1369, 322, 1541, 536.7), F_PTS, F_BOX, F_BR, (.2175, 1.142), (-.587, 2.54), [.4, .6, .8, 1], "{:.1f}", "Purity (Malignant cells) %", 1333)
box_panel((1371.7, 613, 1538, 827.3), G_PTS, G_BOX, G_BR, (-.0108, .2295), (-.605, 2.58), [0, .05, .1, .15, .2], "{:.2f}", "T cell regulatory (Tregs) %", 1328)
box_panel((1373.3, 912, 1540, 1126.7), H_PTS, H_BOX, H_BR, (-.246, .273), (-.6, 2.59), [-.2, -.1, 0, .1, .2], "{:.1f}", "MDSC %", 1329)

# ================ Letters ================
for ch, x, y in [("A", 0, 25), ("B", 505, 24), ("C", 1002, 24), ("D", 1, 441), ("E", 1291, 25), ("F", 1291, 318), ("G", 1290, 591), ("H", 1291, 902)]:
    fig.text(x / W, 1 - y / H, ch, family=["Open Sans", "DejaVu Sans"], fontsize=19, va="baseline", ha="left", color="black")

fig.savefig("out.png", dpi=100)
